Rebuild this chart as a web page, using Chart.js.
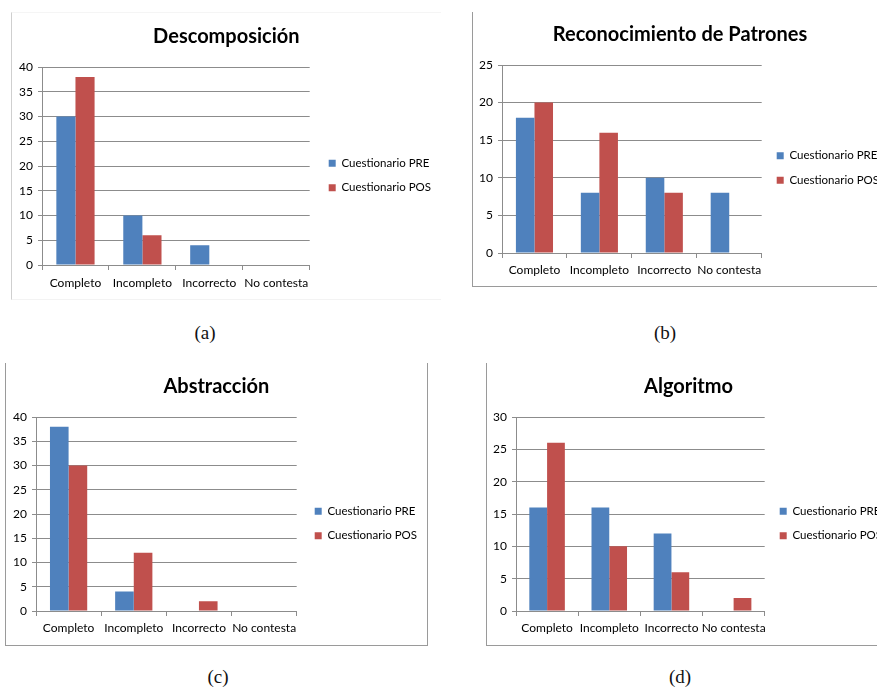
<!DOCTYPE html>
<html>
<head>
<meta charset="utf-8">
<script src="https://cdn.jsdelivr.net/npm/chart.js@4.4.0/dist/chart.umd.min.js"></script>
<style>
  body { margin: 0; width: 877px; height: 688px; position: relative; overflow: hidden; background: #fff; }
  canvas { position: absolute; }
  .frame { position: absolute; box-sizing: border-box; }
  .cap { position: absolute; font-family: "Liberation Serif", serif; font-size: 19px; color: #111; transform: translate(-50%, -50%); }
</style>
</head>
<body>
<div class="frame" style="left:11px;top:12px;width:430px;height:288px;border-left:1px solid #cfcfcf;border-top:1px solid #f5f5f5;border-bottom:1px solid #f3f3f3;"></div>
<div class="frame" style="left:472px;top:12px;width:405px;height:275px;border-left:1px solid #9a9a9a;border-bottom:1px solid #9a9a9a;"></div>
<div class="frame" style="left:5px;top:363px;width:423px;height:283px;border-left:1px solid #9a9a9a;border-right:1px solid #9a9a9a;border-bottom:1px solid #9a9a9a;"></div>
<div class="frame" style="left:486px;top:363px;width:391px;height:283px;border-left:1px solid #9a9a9a;border-bottom:1px solid #9a9a9a;"></div>

<canvas id="chartA"></canvas>
<canvas id="chartB"></canvas>
<canvas id="chartC"></canvas>
<canvas id="chartD"></canvas>

<div class="cap" style="left:205px;top:333px;">(a)</div>
<div class="cap" style="left:665px;top:333px;">(b)</div>
<div class="cap" style="left:218px;top:677px;">(c)</div>
<div class="cap" style="left:680px;top:677px;">(d)</div>

<script>
// data
const categories = ['Completo', 'Incompleto', 'Incorrecto', 'No contesta'];
const seriesNames = ['Cuestionario PRE', 'Cuestionario POS'];

const descomposicionPre = [30, 10, 4, 0];
const descomposicionPos = [38, 6, 0, 0];

const patronesPre = [18, 8, 10, 8];
const patronesPos = [20, 16, 8, 0];

const abstraccionPre = [38, 4, 0, 0];
const abstraccionPos = [30, 12, 2, 0];

const algoritmoPre = [16, 16, 12, 0];
const algoritmoPos = [26, 10, 6, 2];

const titles = ['Descomposición', 'Reconocimiento de Patrones', 'Abstracción', 'Algoritmo'];
const yMaxValues = [40, 25, 40, 30];

const colors = ['#4F81BD', '#C0504D'];
const gridColor = '#8c8c8c';
const fontFamily = 'Lato';
const legendPad = 13;
const legendFont = 11.5;

// page placement of each panel (canvas top/height, plot box, title and legend centre)
const panels = [
  { id: 'chartA', left: 12, top: 13, height: 285, plot: { left: 42, right: 309, top: 67, bottom: 265 }, titleX: 226, titleY: 37, legendX: 328, legendY: 175.5, labelPad: 6 },
  { id: 'chartB', left: 473, top: 12, height: 273, plot: { left: 502, right: 761, top: 65, bottom: 253 }, titleX: 679, titleY: 35, legendX: 776, legendY: 168, labelPad: 5 },
  { id: 'chartC', left: 6, top: 363, height: 281, plot: { left: 36, right: 296, top: 417, bottom: 611 }, titleX: 216, titleY: 387, legendX: 314, legendY: 523.5, labelPad: 5 },
  { id: 'chartD', left: 487, top: 363, height: 281, plot: { left: 516, right: 764, top: 417, bottom: 611 }, titleX: 687, titleY: 387, legendX: 779, legendY: 523.5, labelPad: 5 }
];

const seriesData = [
  [descomposicionPre, descomposicionPos],
  [patronesPre, patronesPos],
  [abstraccionPre, abstraccionPos],
  [algoritmoPre, algoritmoPos]
];

// moves the legend box without touching the plot area
const legendNudge = {
  id: 'legendNudge',
  afterLayout(chart, args, opts) {
    const l = chart.legend;
    if (!l) return;
    l.left += opts.dx; l.right += opts.dx;
    l.top += opts.dy; l.bottom += opts.dy;
  }
};

const measureCtx = document.createElement('canvas').getContext('2d');
measureCtx.font = legendFont + 'px ' + fontFamily;
const textW = Math.max(...seriesNames.map(s => measureCtx.measureText(s).width));
const legendW = legendPad + 7 + legendFont / 2 + textW + 10;

panels.forEach((p, index) => {
  const canvas = document.getElementById(p.id);
  const plotLeft = p.plot.left - p.left;
  const plotRight = p.plot.right - p.left;
  const plotTop = p.plot.top - p.top;
  const plotBottom = p.plot.bottom - p.top;
  const padRight = 10;
  const width = Math.ceil(plotRight + legendW + padRight);
  const titleCenter = p.titleX - p.left;
  const padLeft = Math.max(0, Math.min(plotLeft - 20, 2 * titleCenter - plotRight - legendW));
  const titleRel = p.titleY - p.top;

  canvas.width = width;
  canvas.height = p.height;
  canvas.style.left = p.left + 'px';
  canvas.style.top = p.top + 'px';
  canvas.style.width = width + 'px';
  canvas.style.height = p.height + 'px';

  const datasets = seriesData[index].map((values, i) => ({
    label: seriesNames[i],
    data: values,
    backgroundColor: colors[i],
    borderColor: colors[i],
    borderWidth: 0,
    barPercentage: 1,
    categoryPercentage: 2 / 3.5
  }));

  new Chart(canvas, {
    type: 'bar',
    data: { labels: categories, datasets },
    plugins: [legendNudge],
    options: {
      responsive: false,
      animation: false,
      layout: { padding: { left: padLeft, right: padRight, top: 0, bottom: 0 } },
      scales: {
        x: {
          grid: { display: true, drawOnChartArea: false, drawTicks: true, tickLength: 5, color: gridColor, offset: true },
          border: { display: true, color: gridColor },
          ticks: { color: '#000', padding: p.labelPad, font: { family: fontFamily, size: 12 }, maxRotation: 0, autoSkip: false },
          afterFit(scale) { scale.height = p.height - plotBottom; }
        },
        y: {
          min: 0,
          max: yMaxValues[index],
          ticks: { stepSize: 5, color: '#000', padding: 5, font: { family: fontFamily, size: 12 } },
          grid: { color: gridColor, tickLength: 4, drawTicks: true },
          border: { display: true, color: gridColor },
          afterFit(scale) { scale.width = plotLeft - padLeft; }
        }
      },
      plugins: {
        title: {
          display: true,
          text: titles[index],
          color: '#000',
          font: { family: fontFamily, size: 20, weight: 'bold' },
          padding: { top: titleRel - 12, bottom: plotTop - titleRel - 12 }
        },
        legend: {
          position: 'right',
          maxWidth: 600,
          labels: {
            boxWidth: 7,
            boxHeight: 7,
            padding: legendPad,
            color: '#000',
            font: { family: fontFamily, size: legendFont }
          }
        },
        legendNudge: { dx: (p.legendX - p.plot.right) - legendPad, dy: (p.legendY - p.top) - p.height / 2 },
        tooltip: { enabled: false }
      }
    }
  });
});
</script>
</body>
</html>
